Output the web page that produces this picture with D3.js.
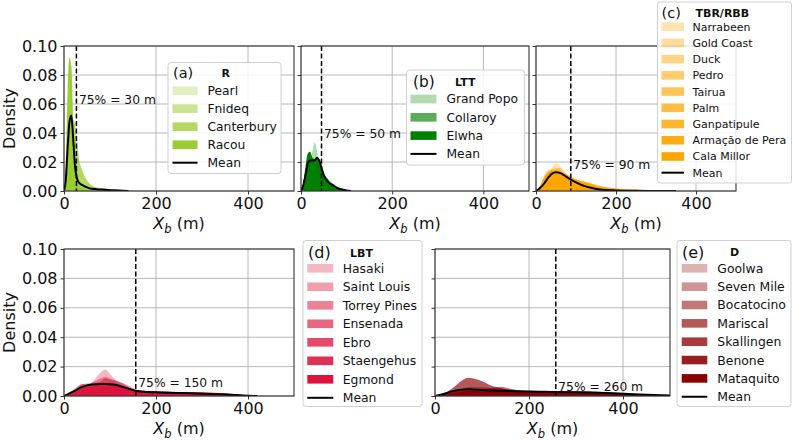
<!DOCTYPE html>
<html>
<head>
<meta charset="utf-8">
<script src="https://cdn.jsdelivr.net/npm/d3@7"></script>
<style>
  body { margin: 0; background: #fff; }
  svg { font-family: "DejaVu Sans", sans-serif; }
</style>
</head>
<body>
<svg id="fig" width="793" height="441"></svg>
<script>
// ---- data ----
// (a) R
var xA = [0, 4, 8, 12, 16, 20, 24, 28, 32, 40, 50, 60, 80, 100, 120, 140];
var pearl      = [0, 0.010, 0.028, 0.034, 0.030, 0.020, 0.012, 0.008, 0.006, 0.004, 0.003, 0.002, 0.0015, 0.001, 0.0007, 0.0003];
var fnideq     = [0, 0.010, 0.048, 0.068, 0.058, 0.030, 0.012, 0.005, 0.003, 0.002, 0.001, 0.0005, 0, 0, 0, 0];
var canterbury = [0, 0.004, 0.018, 0.038, 0.048, 0.049, 0.046, 0.036, 0.024, 0.014, 0.0075, 0.004, 0.002, 0.001, 0.0005, 0];
var racou      = [0, 0.020, 0.070, 0.092, 0.086, 0.050, 0.020, 0.008, 0.004, 0.002, 0.001, 0, 0, 0, 0, 0];
var meanA      = [0, 0.008, 0.030, 0.048, 0.052, 0.036, 0.017, 0.009, 0.006, 0.004, 0.0025, 0.0015, 0.001, 0.0006, 0.0004, 0];

// (b) LTT
var xB = [0, 5, 10, 15, 20, 25, 30, 35, 40, 45, 50, 60, 70, 80, 90, 100, 110];
var grandPopo = [0, 0.001, 0.005, 0.012, 0.020, 0.027, 0.0335, 0.028, 0.018, 0.010, 0.005, 0.002, 0.001, 0, 0, 0, 0];
var collaroy  = [0, 0.004, 0.012, 0.020, 0.024, 0.022, 0.020, 0.018, 0.017, 0.015, 0.012, 0.008, 0.005, 0.003, 0.0015, 0.0005, 0];
var elwha     = [0, 0.006, 0.017, 0.026, 0.027, 0.023, 0.022, 0.022, 0.020, 0.016, 0.012, 0.007, 0.004, 0.002, 0.001, 0.0003, 0];
var meanB     = [0, 0.004, 0.011, 0.019, 0.021, 0.021, 0.021, 0.023, 0.021, 0.016, 0.011, 0.006, 0.004, 0.002, 0.001, 0.0003, 0];

// (c) TBR/RBB
var xC = [0, 10, 20, 30, 40, 50, 60, 70, 80, 100, 120, 140, 160, 200, 250, 300, 350];
var narrabeen   = [0, 0.001, 0.004, 0.010, 0.016, 0.019, 0.017, 0.012, 0.008, 0.004, 0.002, 0.001, 0.0005, 0, 0, 0, 0];
var goldCoast   = [0, 0.002, 0.006, 0.011, 0.015, 0.016, 0.014, 0.011, 0.008, 0.005, 0.003, 0.002, 0.001, 0, 0, 0, 0];
var duck        = [0, 0.001, 0.004, 0.008, 0.012, 0.015, 0.016, 0.014, 0.011, 0.007, 0.004, 0.002, 0.001, 0.0003, 0, 0, 0];
var pedro       = [0, 0.004, 0.010, 0.014, 0.015, 0.013, 0.010, 0.007, 0.005, 0.003, 0.0015, 0.0008, 0.0003, 0, 0, 0, 0];
var tairua      = [0, 0.002, 0.006, 0.010, 0.013, 0.014, 0.013, 0.011, 0.009, 0.006, 0.004, 0.0025, 0.0015, 0.0006, 0.0002, 0, 0];
var palm        = [0, 0.001, 0.003, 0.006, 0.009, 0.011, 0.012, 0.012, 0.011, 0.008, 0.006, 0.004, 0.003, 0.0015, 0.0008, 0.0003, 0];
var ganpatipule = [0, 0.003, 0.008, 0.012, 0.014, 0.014, 0.012, 0.010, 0.008, 0.005, 0.003, 0.002, 0.001, 0.0005, 0.0001, 0, 0];
var armacao     = [0, 0.001, 0.002, 0.004, 0.006, 0.008, 0.009, 0.009, 0.009, 0.008, 0.0065, 0.005, 0.0035, 0.0018, 0.0008, 0.0003, 0.0001];
var calaMillor  = [0, 0.003, 0.009, 0.013, 0.014, 0.013, 0.011, 0.009, 0.007, 0.0045, 0.003, 0.002, 0.0012, 0.0005, 0.0001, 0, 0];
var meanC       = [0, 0.002, 0.005, 0.009, 0.012, 0.013, 0.0125, 0.011, 0.009, 0.006, 0.0035, 0.002, 0.001, 0.0004, 0.0001, 0, 0];

// (d) LBT
var xD = [0, 20, 40, 60, 80, 90, 100, 120, 140, 160, 200, 250, 300, 350, 400, 420];
var hasaki     = [0, 0.002, 0.005, 0.009, 0.016, 0.018, 0.015, 0.008, 0.004, 0.002, 0.001, 0.0005, 0.0003, 0.0001, 0, 0];
var saintLouis = [0, 0.003, 0.008, 0.009, 0.012, 0.013, 0.012, 0.0095, 0.006, 0.003, 0.0015, 0.0008, 0.0004, 0.0002, 0, 0];
var torrey     = [0, 0.004, 0.0082, 0.008, 0.010, 0.012, 0.011, 0.0097, 0.007, 0.004, 0.002, 0.001, 0.0005, 0.0002, 0, 0];
var ensenada   = [0, 0.003, 0.006, 0.008, 0.009, 0.009, 0.0085, 0.007, 0.005, 0.003, 0.0018, 0.0012, 0.0008, 0.0004, 0.0001, 0];
var ebro       = [0, 0.002, 0.005, 0.007, 0.008, 0.008, 0.0078, 0.0068, 0.0052, 0.0035, 0.0025, 0.0022, 0.0018, 0.0012, 0.0003, 0];
var staengehus = [0, 0.001, 0.003, 0.005, 0.006, 0.0065, 0.0065, 0.006, 0.005, 0.004, 0.003, 0.0028, 0.0024, 0.0016, 0.0004, 0];
var egmond     = [0, 0.001, 0.0025, 0.004, 0.005, 0.0055, 0.0055, 0.0052, 0.0045, 0.0035, 0.003, 0.0027, 0.0024, 0.0018, 0.0005, 0];
var meanD      = [0, 0.003, 0.0062, 0.0078, 0.0082, 0.0082, 0.008, 0.007, 0.005, 0.0033, 0.0025, 0.002, 0.0016, 0.001, 0.0002, 0];

// (e) D
var xE = [0, 20, 40, 60, 70, 80, 100, 120, 140, 160, 200, 250, 300, 350, 400, 450, 500];
var goolwa     = [0, 0.001, 0.003, 0.004, 0.0045, 0.0045, 0.004, 0.0035, 0.003, 0.0025, 0.002, 0.0015, 0.001, 0.0005, 0.0002, 0, 0];
var sevenMile  = [0, 0.001, 0.003, 0.005, 0.006, 0.006, 0.006, 0.0055, 0.005, 0.0045, 0.0035, 0.0025, 0.0018, 0.001, 0.0004, 0.0001, 0];
var bocatocino = [0, 0.001, 0.003, 0.004, 0.0045, 0.0048, 0.005, 0.0055, 0.0063, 0.005, 0.003, 0.002, 0.0015, 0.001, 0.0005, 0.0001, 0];
var mariscal   = [0, 0.002, 0.006, 0.011, 0.0125, 0.012, 0.010, 0.007, 0.0055, 0.004, 0.003, 0.0022, 0.0016, 0.001, 0.0005, 0.0001, 0];
var skallingen = [0, 0.001, 0.002, 0.003, 0.0035, 0.0038, 0.0038, 0.0036, 0.0034, 0.0032, 0.003, 0.0028, 0.0026, 0.002, 0.0012, 0.0004, 0];
var benone     = [0, 0.0008, 0.0018, 0.0026, 0.003, 0.0032, 0.0033, 0.0033, 0.0032, 0.0031, 0.003, 0.0029, 0.0027, 0.0024, 0.0016, 0.0006, 0.0002];
var mataquito  = [0, 0.0005, 0.0012, 0.0018, 0.002, 0.0022, 0.0024, 0.0025, 0.0026, 0.0027, 0.0028, 0.0029, 0.003, 0.0028, 0.002, 0.0008, 0.0002];
var meanE      = [0, 0.0015, 0.0035, 0.0045, 0.0046, 0.0045, 0.0041, 0.0038, 0.0036, 0.0034, 0.003, 0.0028, 0.0026, 0.0022, 0.0016, 0.0008, 0.0003];

var p75Line  = [27, 45, 87, 156, 257];   // where the dashed line sits
var p75Label = [30, 50, 90, 150, 260];   // what the text says
var xTicks = [0, 200, 400];
var yTicks = [0, 0.02, 0.04, 0.06, 0.08, 0.10];

// ---- panels ----
var panels = [
  { tag: "(a)", group: "R", color: "#9acd32", x: xA, mean: meanA,
    names: ["Pearl", "Fnideq", "Canterbury", "Racou"],
    series: [pearl, fnideq, canterbury, racou],
    box: {l:64, r:294, t:46, b:191}, yLabels: true, annY: 0.060,
    leg: {x0:168, x1:281, y0:62.5, y1:173.5, tx:173, ty:73, bx:221.5, px0:172.5, px1:197.5, textX:207.5, row0:90.7, step:18, fs:12.3, tfs:14.5} },
  { tag: "(b)", group: "LTT", color: "#008000", x: xB, mean: meanB,
    names: ["Grand Popo", "Collaroy", "Elwha"],
    series: [grandPopo, collaroy, elwha],
    box: {l:301, r:529, t:46, b:191}, yLabels: false, annY: 0.0367,
    leg: {x0:406.5, x1:524.5, y0:70, y1:165, tx:413, ty:81.7, bx:455, px0:410.5, px1:436.5, textX:446.5, row0:99, step:18.3, fs:12.3, tfs:15.3} },
  { tag: "(c)", group: "TBR/RBB", color: "#ffa500", x: xC, mean: meanC,
    names: ["Narrabeen", "Gold Coast", "Duck", "Pedro", "Tairua", "Palm", "Ganpatipule", "Armação de Pera", "Cala Millor"],
    series: [narrabeen, goldCoast, duck, pedro, tairua, palm, ganpatipule, armacao, calaMillor],
    box: {l:536, r:736, t:46, b:191}, yLabels: false, annY: 0.0155,
    leg: {x0:657.5, x1:791.5, y0:2, y1:183, tx:661.5, ty:12.7, bx:695.5, px0:661.5, px1:684, textX:692.5, row0:26.7, step:16.22, fs:11, tfs:14.5} },
  { tag: "(d)", group: "LBT", color: "#dc143c", x: xD, mean: meanD,
    names: ["Hasaki", "Saint Louis", "Torrey Pines", "Ensenada", "Ebro", "Staengehus", "Egmond"],
    series: [hasaki, saintLouis, torrey, ensenada, ebro, staengehus, egmond],
    box: {l:64, r:294, t:249, b:396}, yLabels: true, annY: 0.0063,
    leg: {x0:303, x1:422, y0:240.5, y1:406.5, tx:308, ty:252.7, bx:350, px0:307.3, px1:333.3, textX:342.7, row0:268.3, step:18.5, fs:12.4, tfs:16} },
  { tag: "(e)", group: "D", color: "#8b0000", x: xE, mean: meanE,
    names: ["Goolwa", "Seven Mile", "Bocatocino", "Mariscal", "Skallingen", "Benone", "Mataquito"],
    series: [goolwa, sevenMile, bocatocino, mariscal, skallingen, benone, mataquito],
    box: {l:435, r:670, t:249, b:396}, yLabels: false, annY: 0.0034,
    leg: {x0:677, x1:791, y0:240.5, y1:406.5, tx:682, ty:252.3, bx:730, px0:681.7, px1:707.3, textX:717.3, row0:268.3, step:18.35, fs:12.4, tfs:16} }
];

var svg = d3.select("#fig");

function rgba(hex, a) {
  var c = d3.rgb(hex);
  return "rgba(" + c.r + "," + c.g + "," + c.b + "," + a + ")";
}

panels.forEach(function(p, pi) {
  var b = p.box;
  var x = d3.scaleLinear().domain([0, 500]).range([b.l, b.r]);
  var y = d3.scaleLinear().domain([0, 0.10]).range([b.b, b.t]);
  var g = svg.append("g");
  var n = p.series.length;
  var alphas = d3.range(n).map(function(i) { return n == 1 ? 1 : 0.3 + 0.7 * i / (n - 1); });

  // grid
  g.selectAll(".gx").data(xTicks).enter().append("line")
    .attr("x1", d => x(d)).attr("x2", d => x(d)).attr("y1", b.t).attr("y2", b.b)
    .attr("stroke", "#b0b0b0").attr("stroke-width", 0.9);
  g.selectAll(".gy").data(yTicks).enter().append("line")
    .attr("y1", d => y(d)).attr("y2", d => y(d)).attr("x1", b.l).attr("x2", b.r)
    .attr("stroke", "#b0b0b0").attr("stroke-width", 0.9);

  // clip so fills stay in the axes
  var cid = "clip" + pi;
  svg.append("clipPath").attr("id", cid).append("rect")
    .attr("x", b.l).attr("y", b.t).attr("width", b.r - b.l).attr("height", b.b - b.t);
  var plot = g.append("g").attr("clip-path", "url(#" + cid + ")");

  var area = d3.area().curve(d3.curveMonotoneX)
    .x(function(d, i) { return x(p.x[i]); })
    .y0(y(0)).y1(function(d) { return y(d); });
  var line = d3.line().curve(d3.curveMonotoneX)
    .x(function(d, i) { return x(p.x[i]); })
    .y(function(d) { return y(d); });

  p.series.forEach(function(s, i) {
    plot.append("path").attr("d", area(s)).attr("fill", rgba(p.color, alphas[i]));
  });
  plot.append("path").attr("d", line(p.mean)).attr("fill", "none")
    .attr("stroke", "#000").attr("stroke-width", 2);

  // 75% line
  plot.append("line").attr("x1", x(p75Line[pi])).attr("x2", x(p75Line[pi]))
    .attr("y1", b.t).attr("y2", b.b)
    .attr("stroke", "#000").attr("stroke-width", 1.5).attr("stroke-dasharray", "5,2.5");
  g.append("text").attr("x", x(p75Line[pi]) + 2.5).attr("y", y(p.annY))
    .attr("font-size", 12.3).attr("fill", "#111")
    .text("75% = " + p75Label[pi] + " m");

  // axes
  var ax = g.append("g").attr("transform", "translate(0," + b.b + ")")
    .call(d3.axisBottom(x).tickValues(xTicks).tickSize(3.5).tickPadding(3).tickFormat(d3.format("d")));
  var ay = g.append("g").attr("transform", "translate(" + b.l + ",0)")
    .call(d3.axisLeft(y).tickValues(yTicks).tickSize(3.5).tickPadding(3)
      .tickFormat(p.yLabels ? d3.format(".2f") : ""));
  [ax, ay].forEach(function(a) {
    a.select(".domain").remove();
    a.selectAll("line").attr("stroke", "#333").attr("stroke-width", 1);
    a.selectAll("text").attr("font-size", 16).attr("fill", "#111")
      .attr("font-family", "DejaVu Sans");
  });
  g.append("rect").attr("x", b.l).attr("y", b.t).attr("width", b.r - b.l).attr("height", b.b - b.t)
    .attr("fill", "none").attr("stroke", "#333").attr("stroke-width", 1.1);

  // x label
  var xl = g.append("text").attr("x", (b.l + b.r) / 2).attr("y", b.b + 37.5)
    .attr("text-anchor", "middle").attr("font-size", 16).attr("fill", "#111");
  xl.append("tspan").attr("font-style", "italic").text("X");
  xl.append("tspan").attr("font-style", "italic").attr("font-size", 11.5).attr("dy", 4).text("b");
  xl.append("tspan").attr("dy", -4).text(" (m)");

  if (p.yLabels) {
    g.append("text").attr("transform", "translate(15," + (b.t + b.b) / 2 + ") rotate(-90)")
      .attr("text-anchor", "middle").attr("font-size", 16).attr("fill", "#111").text("Density");
  }

  // legend
  var L = p.leg;
  var lg = svg.append("g");
  lg.append("rect").attr("x", L.x0).attr("y", L.y0).attr("width", L.x1 - L.x0).attr("height", L.y1 - L.y0)
    .attr("rx", 3).attr("fill", "rgba(255,255,255,0.85)").attr("stroke", "#d0d0d0").attr("stroke-width", 1);
  lg.append("text").attr("x", L.tx).attr("y", L.ty + 0.36 * L.tfs).attr("font-size", L.tfs)
    .attr("fill", "#111").text(p.tag);
  lg.append("text").attr("x", L.bx).attr("y", L.ty + 0.36 * 11).attr("font-size", 11)
    .attr("font-weight", "bold").attr("fill", "#111").text(p.group);
  p.names.forEach(function(nm, i) {
    var cy = L.row0 + i * L.step;
    lg.append("rect").attr("x", L.px0).attr("y", cy - 4.3).attr("width", L.px1 - L.px0).attr("height", 8.6)
      .attr("fill", rgba(p.color, alphas[i]));
    lg.append("text").attr("x", L.textX).attr("y", cy + 0.36 * L.fs).attr("font-size", L.fs)
      .attr("fill", "#111").text(nm);
  });
  var my = L.row0 + n * L.step;
  lg.append("line").attr("x1", L.px0).attr("x2", L.px1).attr("y1", my).attr("y2", my)
    .attr("stroke", "#000").attr("stroke-width", 2);
  lg.append("text").attr("x", L.textX).attr("y", my + 0.36 * L.fs).attr("font-size", L.fs)
    .attr("fill", "#111").text("Mean");
});
</script>
</body>
</html>
